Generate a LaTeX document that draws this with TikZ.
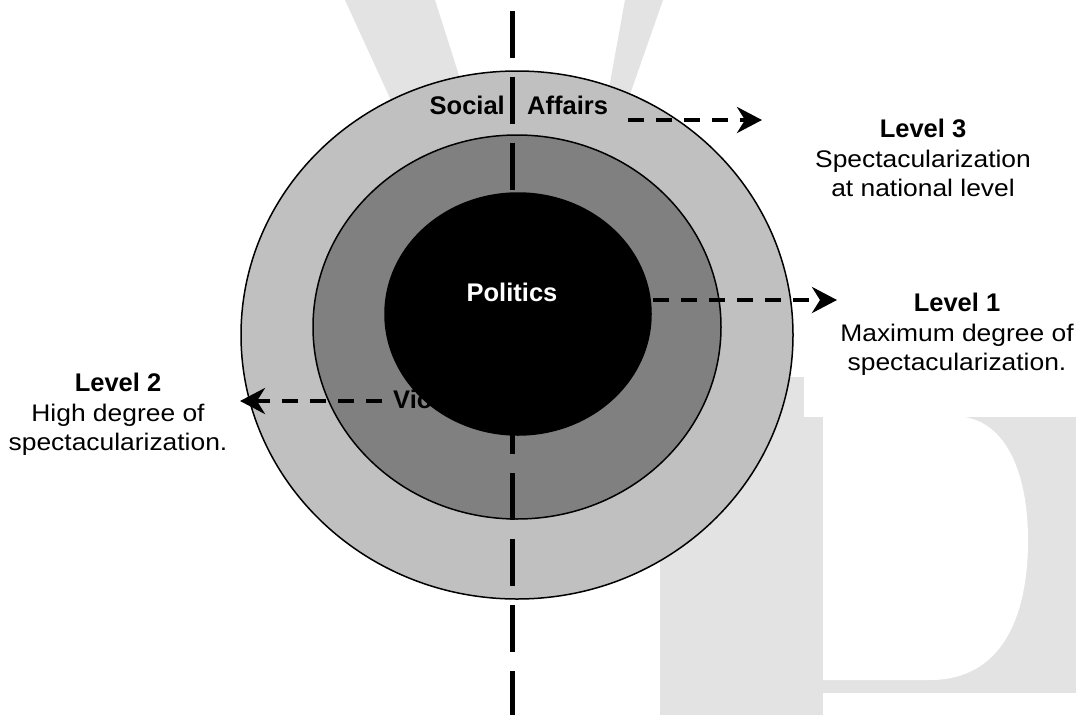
\documentclass[tikz,border=0pt]{standalone}
\usepackage{fontspec}
\setmainfont{Liberation Sans}
\newfontfamily\widesans[FakeStretch=1.1]{Liberation Sans}
\usetikzlibrary{positioning,shapes.geometric,arrows.meta}

\definecolor{markgray}{gray}{0.89}
\definecolor{outergray}{gray}{0.753}
\definecolor{middlegray}{gray}{0.5}
\newcommand{\lvl}[1]{{\fontsize{25.5}{29}\selectfont\rmfamily\bfseries #1}}

\begin{document}
\begin{tikzpicture}[x=1pt, y=-1pt,
			ring/.style={ellipse, draw=black, line width=1.5pt, inner sep=0pt},
			ringlabel/.style={inner sep=0pt, font=\fontsize{25.5}{29}\selectfont\bfseries},
			levelnote/.style={anchor=north, align=center, inner sep=0pt, font=\fontsize{24}{29.5}\selectfont\widesans},
			levelarrow/.style={line width=4pt, dash pattern=on 16pt off 12pt, -{Stealth[length=25pt, width=26pt, inset=8pt]}},
			axis/.style={line width=5pt, dash pattern=on 47pt off 19pt}
		]
		\useasboundingbox[fill=white] (0,0) rectangle (1076,715);
		% watermark behind the figure
		\fill[markgray] (345,0) -- (435,0) -- (470,110) -- (400,120) -- cycle;
		\fill[markgray] (625,0) -- (663,0) -- (628,100) -- (606,105) -- cycle;
		\fill[markgray] (660,377) rectangle (1076,715);
		\fill[white] (804,377) rectangle (1076,417);
		\fill[white] (823,693) rectangle (1076,715);
		\fill[white] (823,417) -- (965,417) .. controls (1010,425) and (1028,480) .. (1028,540)
			.. controls (1028,620) and (1000,680) .. (930,680) -- (823,680) -- cycle;
		% rings
		\node[ring, fill=outergray, minimum width=552pt, minimum height=528pt] (outer) at (517,335) {};
		\node[ring, fill=middlegray, minimum width=408pt, minimum height=384pt] (middle) at (517,327) {};
		\node[ringlabel, anchor=base west] (violence) at (393,408) {Violence};
		\node[ring, fill=black, minimum width=266pt, minimum height=242pt] (core) at (518,314) {};
		\coordinate (axistop) at (512,11);
		\coordinate (axisbottom) at (512,715);
		\draw[axis] (axistop) -- (axisbottom);
		\node[ringlabel, anchor=base, text=white] (politics) at (512,301) {Politics};
		\node[ringlabel, anchor=base east] (social) at (505,114) {Social};
		\node[ringlabel, anchor=base west] (affairs) at (527,114) {Affairs};
		% level notes
		\node[levelnote] (levelthree) at (923,119) {\lvl{Level 3}\\Spectacularization\\at national level};
		\node[levelnote] (levelone) at (957,293) {\lvl{Level 1}\\Maximum degree of\\spectacularization.};
		\node[levelnote] (leveltwo) at (118,373) {\lvl{Level 2}\\High degree of\\spectacularization.};
		\coordinate (threefrom) at (628,120);
		\coordinate (threeto) at (762,120);
		\coordinate (onefrom) at (653,300);
		\coordinate (oneto) at (837,300);
		\coordinate (twofrom) at (382,401);
		\coordinate (twoto) at (240,401);
		\begin{scope}
		\draw[levelarrow] (threefrom) -- (threeto);
		\draw[levelarrow] (onefrom) -- (oneto);
		\draw[levelarrow] (twofrom) -- (twoto);
		\end{scope}
\end{tikzpicture}
\end{document}
